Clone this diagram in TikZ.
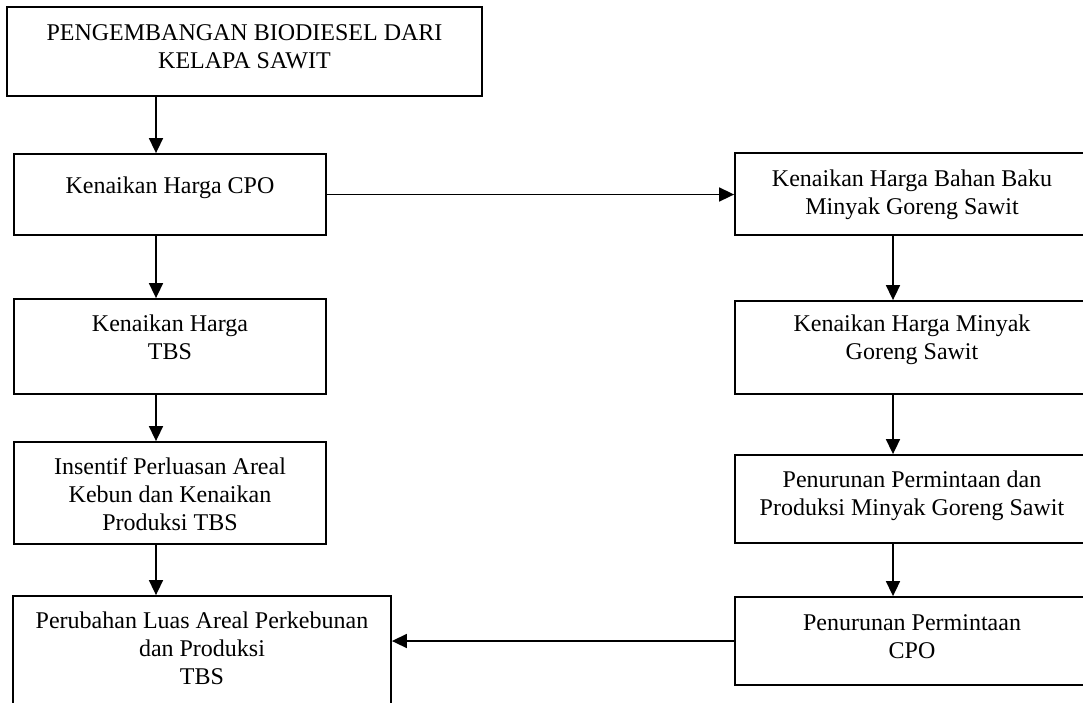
\documentclass[tikz,border=0pt]{standalone}
\usepackage{fontspec}
\setmainfont{Liberation Serif}
\usetikzlibrary{arrows.meta}
\begin{document}
\begin{tikzpicture}[x=1pt,y=-1pt,
  box/.style={draw, line width=1.8pt, inner sep=0pt},
  lbl/.style={anchor=north, inner sep=0pt, align=center, font=\fontsize{24}{28}\selectfont},
  arr/.style={line width=1.6pt, -{Triangle[length=15pt,width=14pt]}}]
\useasboundingbox[fill=white] (0,0) rectangle (1083,702);
% left column
\node[box, minimum width=475pt, minimum height=89pt] (b1) at (244.5,51.5) {};
\node[box, minimum width=312pt, minimum height=81pt] (b2) at (170,194.5) {};
\node[box, minimum width=312pt, minimum height=95pt] (b3) at (170,346.5) {};
\node[box, minimum width=312pt, minimum height=102pt] (b4) at (170,493) {};
\node[box, minimum width=378pt, minimum height=130pt] (b5) at (202,661) {};
% right column
\node[box, minimum width=354pt, minimum height=82pt] (r1) at (912,194) {};
\node[box, minimum width=354pt, minimum height=93pt] (r2) at (912,347.5) {};
\node[box, minimum width=354pt, minimum height=88pt] (r3) at (912,499) {};
\node[box, minimum width=354pt, minimum height=88pt] (r4) at (912,641) {};
% texts
\node[lbl] (t1) at ([yshift=-18pt]b1.north) {PENGEMBANGAN BIODIESEL DARI\\KELAPA SAWIT};
\node[lbl] (t2) at ([yshift=-24pt]b2.north) {Kenaikan Harga CPO};
\node[lbl] (t3) at ([yshift=-17pt]b3.north) {Kenaikan Harga\\TBS};
\node[lbl] (t4) at ([yshift=-16pt]b4.north) {Insentif Perluasan Areal\\Kebun dan Kenaikan\\Produksi TBS};
\node[lbl] (t5) at ([yshift=-17pt]b5.north) {Perubahan Luas Areal Perkebunan\\dan Produksi\\TBS};
\node[lbl] (u1) at ([yshift=-18pt]r1.north) {Kenaikan Harga Bahan Baku\\Minyak Goreng Sawit};
\node[lbl] (u2) at ([yshift=-15pt]r2.north) {Kenaikan Harga Minyak\\Goreng Sawit};
\node[lbl] (u3) at ([yshift=-17pt]r3.north) {Penurunan Permintaan dan\\Produksi Minyak Goreng Sawit};
\node[lbl] (u4) at ([yshift=-18pt]r4.north) {Penurunan Permintaan\\CPO};
% arrow columns
\coordinate (lx) at (156,0);
\coordinate (rx) at (893,0);
\draw[arr] (b1.south -| lx) -- (b2.north -| lx);
\draw[arr] (b2.south -| lx) -- (b3.north -| lx);
\draw[arr] (b3.south -| lx) -- (b4.north -| lx);
\draw[arr] (b4.south -| lx) -- (b5.north -| lx);
\draw[arr] (b2.east) -- (b2.east -| r1.west);
\draw[arr] (r1.south -| rx) -- (r2.north -| rx);
\draw[arr] (r2.south -| rx) -- (r3.north -| rx);
\draw[arr] (r3.south -| rx) -- (r4.north -| rx);
\draw[arr] (r4.west) -- (r4.west -| b5.east);
\end{tikzpicture}
\end{document}
